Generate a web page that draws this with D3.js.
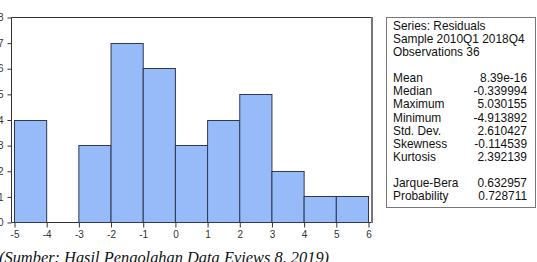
<!DOCTYPE html>
<html>
<head>
<meta charset="utf-8">
<script src="https://cdn.jsdelivr.net/npm/d3@7"></script>
<style>
  html, body { margin: 0; padding: 0; background: #fff; overflow: hidden; }
  svg { display: block; }
</style>
</head>
<body>
<svg id="chart" width="537" height="262"></svg>
<script>
// ---- data ----
const binStarts = [-5, -4, -3, -2, -1, 0, 1, 2, 3, 4, 5];
const binWidth = 1;
const counts = [4, 0, 3, 7, 6, 3, 4, 5, 2, 1, 1];
const xTicks = [-5, -4, -3, -2, -1, 0, 1, 2, 3, 4, 5, 6];
const yTicks = [0, 1, 2, 3, 4, 5, 6, 7, 8];
const headerLines = ["Series: Residuals", "Sample 2010Q1 2018Q4", "Observations 36"];
const statNames = ["Mean", "Median", "Maximum", "Minimum", "Std. Dev.", "Skewness", "Kurtosis", "", "Jarque-Bera", "Probability"];
const statValues = ["8.39e-16", "-0.339994", "5.030155", "-4.913892", "2.610427", "-0.114539", "2.392139", "", "0.632957", "0.728711"];
const caption = "(Sumber: Hasil Pengolahan Data Eviews 8, 2019)";

const svg = d3.select("#chart");

const x = d3.scaleLinear().domain([-5, 6]).range([14, 368]);
const y = d3.scaleLinear().domain([0, 8]).range([222, 17]);

const frame = { left: 11.5, right: 372, top: 17.5, bottom: 222.5 };

// frame lines
svg.append("line").attr("x1", frame.left).attr("x2", frame.right).attr("y1", frame.top).attr("y2", frame.top)
  .attr("stroke", "#333").attr("stroke-width", 1);
svg.append("line").attr("x1", frame.left).attr("x2", frame.right).attr("y1", frame.bottom).attr("y2", frame.bottom)
  .attr("stroke", "#333").attr("stroke-width", 1);
svg.append("line").attr("x1", frame.right).attr("x2", frame.right).attr("y1", frame.top - 0.5).attr("y2", frame.bottom + 0.5)
  .attr("stroke", "#777").attr("stroke-width", 2);

// bars
svg.append("g").selectAll("rect").data(binStarts).join("rect")
  .attr("x", (d) => x(d) + 0.5)
  .attr("width", (d) => x(d + binWidth) - x(d))
  .attr("y", (d, i) => Math.round(y(counts[i])) + 0.5)
  .attr("height", (d, i) => y(0) - Math.round(y(counts[i])))
  .attr("fill", (d, i) => counts[i] > 0 ? "#97bbf9" : "none")
  .attr("stroke", (d, i) => counts[i] > 0 ? "#2e3850" : "none")
  .attr("stroke-width", 1);

// axes
const fmt = (d) => String(d);
const xAxis = d3.axisBottom(x).tickValues(xTicks).tickSize(5).tickPadding(3).tickFormat(fmt);
const gx = svg.append("g").attr("transform", `translate(0.5,${frame.bottom})`).call(xAxis);
gx.select(".domain").remove();
gx.selectAll("line").attr("stroke", "#333");
gx.selectAll("text").attr("font-family", "Liberation Sans, Arial, sans-serif").attr("font-size", 10).attr("fill", "#333");

const yAxis = d3.axisLeft(y).tickValues(yTicks).tickSize(4).tickPadding(4).tickFormat(fmt);
const gy = svg.append("g").attr("transform", `translate(${frame.left},0.5)`).call(yAxis);
gy.select(".domain").attr("stroke", "#333").attr("d", `M0,${frame.top - 0.5}V${frame.bottom - 0.5}`);
gy.selectAll("line").attr("stroke", "#333");
gy.selectAll("text").attr("font-family", "Liberation Sans, Arial, sans-serif").attr("font-size", 10).attr("fill", "#333");

// stats box
svg.append("rect").attr("x", 386.5).attr("y", 17.5).attr("width", 149).attr("height", 190)
  .attr("fill", "#fff").attr("stroke", "#777").attr("stroke-width", 1);

const font = "Liberation Sans, Arial, sans-serif";
const lineStep = 13.1;
const firstBase = 29.8;
const box = svg.append("g").attr("font-family", font).attr("font-size", 11.9).attr("fill", "#111");
headerLines.forEach((t, i) => {
  box.append("text").attr("x", 393).attr("y", firstBase + i * lineStep).text(t);
});
statNames.forEach((t, i) => {
  const yy = firstBase + (i + 4) * lineStep;
  if (t) box.append("text").attr("x", 393).attr("y", yy).text(t);
  if (statValues[i]) box.append("text").attr("x", 527).attr("y", yy).attr("text-anchor", "end").text(statValues[i]);
});

// caption
svg.append("text").attr("x", -1).attr("y", 263)
  .attr("font-family", "Liberation Serif, Times New Roman, serif")
  .attr("font-style", "italic").attr("font-size", 16.4).attr("fill", "#111")
  .text(caption);
</script>
</body>
</html>
